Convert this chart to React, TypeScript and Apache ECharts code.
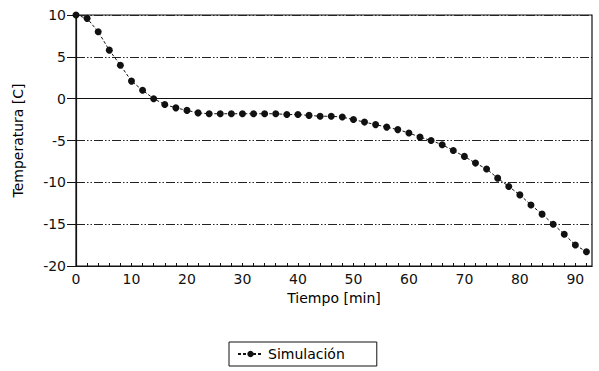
import React, { useEffect, useRef } from "react";
import * as echarts from "echarts";

const times = [0, 2, 4, 6, 8, 10, 12, 14, 16, 18, 20, 22, 24, 26, 28, 30, 32, 34, 36, 38, 40, 42, 44, 46, 48, 50, 52, 54, 56, 58, 60, 62, 64, 66, 68, 70, 72, 74, 76, 78, 80, 82, 84, 86, 88, 90, 92];
const temps = [10.0, 9.6, 8.0, 5.8, 4.0, 2.1, 1.0, 0.0, -0.7, -1.1, -1.4, -1.7, -1.8, -1.8, -1.8, -1.8, -1.8, -1.8, -1.8, -1.9, -1.9, -2.0, -2.1, -2.1, -2.2, -2.5, -2.8, -3.1, -3.4, -3.7, -4.1, -4.6, -5.0, -5.5, -6.2, -6.9, -7.7, -8.4, -9.5, -10.5, -11.5, -12.7, -13.8, -15.0, -16.2, -17.5, -18.3];
const seriesName = "Simulación";
const xName = "Tiempo [min]";
const yName = "Temperatura [C]";

const FONT = "DejaVu Sans, Verdana, sans-serif";

export default function App() {
  const ref = useRef<HTMLDivElement>(null);
  useEffect(() => {
    if (!ref.current) return;
    const chart = echarts.init(ref.current, undefined, { renderer: "svg" });
    const dashDot = [9, 2, 1.5, 2, 1.5, 2];
    chart.setOption({
      animation: false,
      backgroundColor: "#ffffff",
      textStyle: { fontFamily: FONT, color: "#000" },
      grid: {
        left: 76,
        right: 7,
        top: 15,
        bottom: 105,
        show: true,
        borderColor: "#111",
        borderWidth: 1.2,
      },
      xAxis: {
        type: "value",
        min: 0,
        max: 93,
        interval: 2,
        name: xName,
        nameLocation: "middle",
        nameGap: 24,
        nameTextStyle: { fontSize: 14, color: "#000", fontFamily: FONT },
        axisLine: { show: true, onZero: false, lineStyle: { color: "#111", width: 1.2 } },
        axisTick: { show: true, inside: true, length: 3, lineStyle: { color: "#111" } },
        axisLabel: {
          color: "#111",
          fontSize: 14,
          margin: 6,
          fontFamily: FONT,
          showMaxLabel: false,
          formatter: (v: number) => (v % 10 === 0 ? String(v) : ""),
        },
        splitLine: { show: false },
      },
      yAxis: {
        type: "value",
        min: -20,
        max: 10,
        interval: 5,
        name: yName,
        nameLocation: "middle",
        nameGap: 51,
        nameTextStyle: { fontSize: 14, color: "#000", fontFamily: FONT },
        axisLine: { show: true, lineStyle: { color: "#111", width: 1.2 } },
        axisTick: { show: true, inside: false, length: 9, lineStyle: { color: "#111" } },
        axisLabel: { color: "#111", fontSize: 14, margin: 10, fontFamily: FONT },
        splitLine: { show: true, lineStyle: { color: "#222", width: 1, type: dashDot } },
      },
      legend: {
        bottom: 5,
        left: 229,
        data: [seriesName],
        borderColor: "#111",
        borderWidth: 1,
        padding: [5, 32, 5, 8],
        itemWidth: 25,
        itemHeight: 8,
        textStyle: { fontSize: 14, color: "#000", fontFamily: FONT },
      },
      series: [
        {
          name: seriesName,
          type: "line",
          data: times.map((t, i) => [t, temps[i]]),
          symbol: "circle",
          symbolSize: 7,
          itemStyle: { color: "#111" },
          lineStyle: { color: "#111", width: 1, type: [3, 2] },
          markLine: {
            silent: true,
            symbol: "none",
            label: { show: false },
            lineStyle: { color: "#111", width: 1.2, type: "solid" },
            data: [{ yAxis: 0 }],
          },
        },
      ],
    });
    return () => chart.dispose();
  }, []);
  return (
    <div
      ref={ref}
      style={{ position: "fixed", left: 0, top: 0, width: 599, height: 371, background: "#fff" }}
    />
  );
}
